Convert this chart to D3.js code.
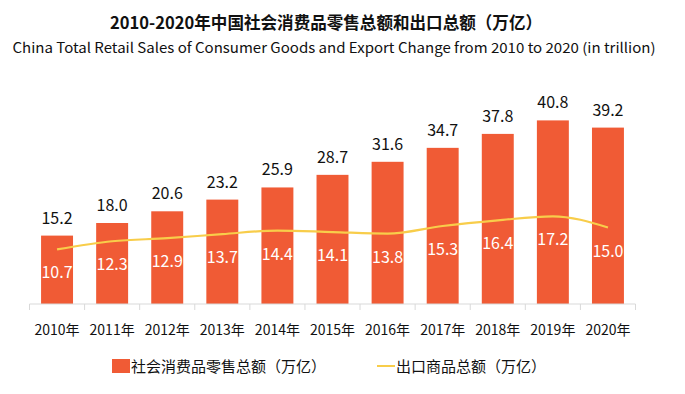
<!DOCTYPE html>
<html>
<head>
<meta charset="utf-8">
<script src="https://cdn.jsdelivr.net/npm/d3@7"></script>
<style>
  body { margin: 0; background: #fff; }
  text { font-family: "Noto Sans CJK SC", "Noto Sans", sans-serif; }
</style>
</head>
<body>
<div id="canvas"></div>
<script>
var years = ["2010年", "2011年", "2012年", "2013年", "2014年", "2015年", "2016年", "2017年", "2018年", "2019年", "2020年"];
var retail = [15.2, 18.0, 20.6, 23.2, 25.9, 28.7, 31.6, 34.7, 37.8, 40.8, 39.2];
var exports = [10.7, 12.3, 12.9, 13.7, 14.4, 14.1, 13.8, 15.3, 16.4, 17.2, 15.0];

function init() {
    var svg = d3.select("#canvas").append("svg")
        .attr("width", 685)
        .attr("height", 394);

    // titles
    svg.append("text")
        .attr("x", 326)
        .attr("y", 29)
        .attr("text-anchor", "middle")
        .attr("font-size", 17)
        .attr("font-weight", "bold")
        .attr("fill", "#111")
        .attr("textLength", 432)
        .attr("lengthAdjust", "spacingAndGlyphs")
        .text("2010-2020年中国社会消费品零售总额和出口总额（万亿）");
    svg.append("text")
        .attr("x", 334)
        .attr("y", 53)
        .attr("text-anchor", "middle")
        .attr("font-size", 14)
        .attr("fill", "#111")
        .attr("textLength", 643)
        .attr("lengthAdjust", "spacingAndGlyphs")
        .text("China Total Retail Sales of Consumer Goods and Export Change from 2010 to 2020 (in trillion)");

    var x = d3.scaleBand()
        .domain(years)
        .range([29.5, 635.5])
        .paddingInner(0.42)
        .paddingOuter(0.21);
    var yBar = d3.scaleLinear().domain([0, 45]).range([304, 101.5]);
    var yLine = d3.scaleLinear().domain([0, 40]).range([304, 100]);

    // bars
    svg.selectAll(".bar")
        .data(retail)
        .enter().append("rect")
        .attr("class", "bar")
        .attr("x", function (d, i) { return x(years[i]); })
        .attr("y", function (d) { return yBar(d); })
        .attr("width", x.bandwidth())
        .attr("height", function (d) { return yBar(0) - yBar(d); })
        .attr("fill", "#f05b35");

    svg.selectAll(".barlabel")
        .data(retail)
        .enter().append("text")
        .attr("class", "barlabel")
        .attr("x", function (d, i) { return x(years[i]) + x.bandwidth() / 2; })
        .attr("y", function (d) { return yBar(d) - 12; })
        .attr("text-anchor", "middle")
        .attr("font-size", 16)
        .attr("fill", "#111")
        .text(function (d) { return d.toFixed(1); });

    // x axis
    var axis = svg.append("g").attr("transform", "translate(0,304)");
    axis.append("line")
        .attr("x1", 29.5).attr("x2", 635.5)
        .attr("stroke", "#d9d9d9");
    var step = x.step();
    d3.range(years.length + 1).forEach(function (i) {
        axis.append("line")
            .attr("x1", 29.5 + i * step).attr("x2", 29.5 + i * step)
            .attr("y1", 0).attr("y2", 6)
            .attr("stroke", "#d9d9d9");
    });
    axis.selectAll(".tick-label")
        .data(years)
        .enter().append("text")
        .attr("x", function (d) { return x(d) + x.bandwidth() / 2; })
        .attr("y", 31)
        .attr("text-anchor", "middle")
        .attr("font-size", 14)
        .attr("fill", "#111")
        .text(function (d) { return d; });

    // line
    var line = d3.line()
        .x(function (d, i) { return x(years[i]) + x.bandwidth() / 2; })
        .y(function (d) { return yLine(d); })
        .curve(d3.curveMonotoneX);
    svg.append("path")
        .datum(exports)
        .attr("d", line)
        .attr("fill", "none")
        .attr("stroke", "#f8cd4a")
        .attr("stroke-width", 2.2);

    svg.selectAll(".linelabel")
        .data(exports)
        .enter().append("text")
        .attr("x", function (d, i) { return x(years[i]) + x.bandwidth() / 2; })
        .attr("y", function (d) { return yLine(d) + 29; })
        .attr("text-anchor", "middle")
        .attr("font-size", 16)
        .attr("fill", "#fff")
        .text(function (d) { return d.toFixed(1); });

    // legend
    var legend = svg.append("g").attr("transform", "translate(0,366)");
    legend.append("rect")
        .attr("x", 112).attr("y", -7)
        .attr("width", 18).attr("height", 14)
        .attr("fill", "#f05b35");
    legend.append("text")
        .attr("x", 131).attr("y", 6)
        .attr("font-size", 15)
        .attr("fill", "#111")
        .text("社会消费品零售总额（万亿）");
    legend.append("line")
        .attr("x1", 377).attr("x2", 395)
        .attr("y1", 0).attr("y2", 0)
        .attr("stroke", "#f8cd4a")
        .attr("stroke-width", 2);
    legend.append("text")
        .attr("x", 396).attr("y", 6)
        .attr("font-size", 15)
        .attr("fill", "#111")
        .text("出口商品总额（万亿）");
}
window.onload = init;
</script>
</body>
</html>
